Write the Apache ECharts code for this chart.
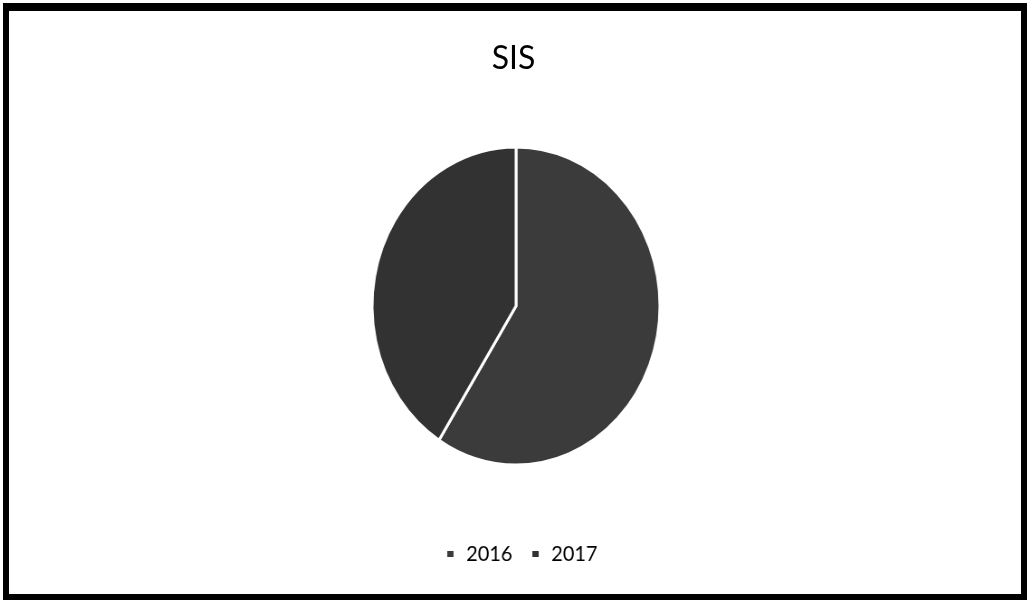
<!DOCTYPE html>
<html>
<head>
<meta charset="utf-8">
<script src="https://cdn.jsdelivr.net/npm/echarts@6/dist/echarts.min.js"></script>
<style>
  html, body { margin: 0; padding: 0; background: #fff; }
  #frame {
    position: absolute; left: 3px; top: 3px; width: 1012px; height: 583px;
    border: 6px solid #000; border-top-width: 8px; background: #fff;
  }
  .layer { position: absolute; left: 0; top: 0; width: 1027px; height: 600px; }
  /* the pie is drawn slightly narrower than it is tall */
  #pie { transform: scaleX(0.905); transform-origin: 516px 306px; }
</style>
</head>
<body>
<div id="frame"></div>
<div id="head" class="layer"></div>
<div id="pie" class="layer"></div>
<script>
// Share of SIS by year
const years = ['2016', '2017'];
const shares = [59, 41];
const sliceColors = ['#3b3b3b', '#323232'];

const head = echarts.init(document.getElementById('head'), null, { renderer: 'canvas' });
head.setOption({
  backgroundColor: 'transparent',
  animation: false,
  title: {
    text: 'SIS',
    left: 'center',
    top: 38,
    textStyle: { fontFamily: 'Lato', fontSize: 32, fontWeight: 'normal', color: '#000' }
  }
});

const pie = echarts.init(document.getElementById('pie'), null, { renderer: 'canvas' });
pie.setOption({
  backgroundColor: 'transparent',
  animation: false,
  legend: {
    data: years,
    left: 433,
    top: 538,
    icon: 'rect',
    itemWidth: 9,
    itemHeight: 8,
    itemGap: 20,
    textStyle: { fontFamily: 'Lato', fontSize: 22, color: '#000', padding: [0, 0, 0, 8] }
  },
  series: [{
    type: 'pie',
    center: [516, 306],
    radius: ['0%', 159],
    startAngle: 90,
    clockwise: true,
    label: { show: false },
    labelLine: { show: false },
    emphasis: { disabled: true },
    itemStyle: { borderColor: '#fff', borderWidth: 3 },
    data: years.map((y, i) => ({ name: y, value: shares[i], itemStyle: { color: sliceColors[i] } }))
  }]
});
</script>
</body>
</html>
